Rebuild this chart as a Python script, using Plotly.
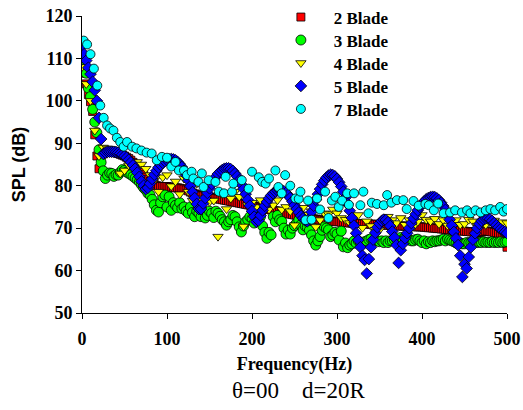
import plotly.graph_objects as go

# ---------------- data ----------------
series_names = ["2 Blade", "3 Blade", "4 Blade", "5 Blade", "7 Blade"]

# 2.5 Hz resolution series (rows of 10 values = 25 Hz each, final value at 500 Hz)
spl_2blade = [
    108, 106.5, 104, 101.5, 99.8, 97.5, 92, 87, 84, 86.5,
    87.5, 87.8, 88, 88, 88, 87.9, 87.8, 87.6, 87.4, 87.2,
    87, 86.7, 86.4, 86, 85.5, 85, 84.4, 83.8, 83.2, 82.6,
    82, 81.5, 81, 80.6, 80.3, 80, 79.9, 79.8, 79.8, 79.8,
    79.8, 79.7, 79.7, 79.6, 79.5, 79.5, 79.4, 79.3, 79.2, 79,
    78.8, 78.5, 78.3, 78.1, 77.9, 77.8, 77.7, 77.6, 77.5, 77.4,
    77.3, 77.2, 77.1, 77, 76.9, 76.8, 76.7, 76.6, 76.5, 76.4,
    76.3, 76.2, 76.1, 76, 75.9, 75.8, 75.7, 75.6, 75.5, 75.4,
    75.3, 75.2, 75.1, 75, 74.9, 74.8, 74.7, 74.6, 74.4, 74.3,
    74.2, 74.1, 74, 73.9, 73.8, 73.6, 73.5, 73.4, 73.3, 73.2,
    73.1, 73, 72.9, 72.8, 72.7, 72.6, 72.5, 72.4, 72.3, 72.2,
    72.1, 72, 71.9, 71.9, 71.8, 71.8, 71.7, 71.7, 71.6, 71.6,
    71.5, 71.5, 71.4, 71.4, 71.3, 71.3, 71.2, 71.2, 71.2, 71.1,
    71.1, 71.1, 71, 71, 71, 71, 70.9, 70.9, 70.9, 70.9,
    70.8, 70.8, 70.8, 70.7, 70.7, 70.7, 70.6, 70.6, 70.6, 70.5,
    70.5, 70.5, 70.5, 70.4, 70.4, 70.4, 70.4, 70.3, 70.3, 70.3,
    70.3, 70.2, 70.2, 70.1, 70.1, 70, 70, 69.9, 69.9, 69.8,
    69.8, 69.7, 69.7, 69.6, 69.6, 69.5, 69.5, 69.4, 69.4, 69.3,
    69.3, 69.2, 69.2, 69.1, 69.1, 69, 69, 69, 69.1, 69.2,
    69.3, 69.3, 69.2, 69.1, 69, 68.9, 68.8, 68.8, 68.7, 68.6,
    65.5,
]

spl_3blade = [
    108.5, 107.5, 106.5, 103, 101, 98, 95, 92.5, 88.5, 85.5,
    83.5, 81.7, 82.5, 83, 82.9, 82.2, 82.6, 82.5, 83.2, 83.8,
    83.6, 83.2, 82.9, 82.6, 82.2, 81.8, 81.4, 80.9, 80.2, 79.5,
    79, 78.2, 77.8, 76.8, 75.5, 74.2, 73.8, 76, 77.4, 77.8,
    75, 77.4, 74.2, 76, 75.4, 74.8, 76, 74.6, 75, 74,
    73.5, 75, 73.7, 72.7, 74, 73.5, 72.7, 74.2, 72.4, 73,
    74, 73.5, 72.5, 74, 73.5, 72.8, 72, 71.5, 70.7, 71.5,
    72, 73, 72.7, 71.5, 70.3, 69.1, 70.5, 71.5, 72, 72.7,
    72.3, 71.2, 73, 71.8, 72.7, 70.5, 69, 67.6, 69, 68.4,
    72.7, 71.5, 73, 72, 71.6, 70, 68.6, 69.5, 68.6, 70,
    70.6, 71.2, 71.9, 70.8, 69.6, 70.5, 70.2, 69.5, 68.4, 67,
    66, 67, 68, 69.5, 70.3, 70, 69.6, 68, 68.4, 69,
    68.6, 67.2, 69.3, 65.6, 66.5, 65.4, 66, 66.3, 67, 66.5,
    67, 66.5, 66.3, 66.8, 67, 67.3, 67.5, 67, 67.3, 67,
    66.8, 67, 66.6, 67, 66.6, 67, 67, 67.3, 67.4, 67,
    67.8, 67.4, 67.8, 67.4, 67.2, 67, 67, 67.3, 67.4, 67,
    66.6, 67, 66.3, 66.8, 66.6, 67, 66.8, 67, 67, 67.2,
    67.4, 67, 67.4, 67.2, 67, 66.8, 66.5, 66.3, 66.5, 66.3,
    66.3, 66.6, 66.5, 66.6, 66.6, 66.8, 66.6, 66.7, 66.6, 66.8,
    66.6, 66.7, 66.6, 66.8, 66.6, 66.7, 66.6, 66.8, 66.6, 66.7,
    66.8,
]

spl_5blade = [
    113, 111, 109.5, 107.8, 106.3, 104.5, 102.5, 100, 96, 91,
    87.5, 87.8, 88, 88, 88, 88, 87.9, 87.8, 87.6, 87.3,
    87, 86.6, 86.1, 85.5, 84.8, 84, 83.1, 82.1, 81, 80,
    79.2, 79.5, 80.5, 81.6, 82.6, 83.5, 84.3, 84.9, 85.4, 85.8,
    86.1, 86.2, 86.3, 86.2, 86, 85.6, 85.1, 84.4, 83.5, 82.5,
    81.3, 79.9, 78.5, 77.1, 75.7, 74.5, 74.5, 75.8, 77.1, 78.3,
    79.4, 80.4, 81.3, 82.1, 82.8, 83.3, 83.7, 84, 84.1, 84.1,
    83.9, 83.5, 82.9, 82.2, 81.3, 80.3, 79.2, 78, 76.7, 75.3,
    74, 72.7, 71.5, 71.8, 73, 74.2, 75.3, 76.2, 77, 77.7,
    78.2, 78.6, 78.9, 79, 78.9, 78.7, 78.3, 77.8, 77.1, 76.3,
    75.4, 74.5, 73.7, 72.9, 72.3, 71.8, 71.6, 72.3, 73.8, 75.3,
    76.7, 78, 79.2, 80.3, 81.2, 81.9, 82.4, 82.6, 82.5, 82.2,
    81.6, 80.8, 79.8, 78.6, 77.2, 75.7, 74.1, 72.4, 70.6, 68.8,
    67.2, 65.5, 63.5, 62.5, 59.3, 62.7, 65.5, 67.3, 68.9, 70.2,
    71.1, 71.7, 72, 71.9, 71.4, 70.5, 69.2, 67.8, 66, 61.8,
    64.8, 66.3, 67.6, 68.8, 70, 71.2, 72.3, 73.3, 74.2, 75,
    75.7, 76.3, 76.8, 77.1, 77.3, 77.4, 77.3, 77, 76.6, 76,
    75.2, 74.3, 73.2, 72, 70.6, 69.1, 67.6, 66, 63.5, 58.5,
    61.5, 60.5, 63.2, 65.5, 67.3, 68.8, 70, 71, 71.7, 72.1,
    72.3, 72.3, 72.1, 71.7, 71.2, 70.7, 70.2, 69.8, 69.4, 69.1,
    68.8,
]

# 5 Hz resolution series (rows of 10 values = 50 Hz each, final at 500 Hz)
spl_4blade = [
    108, 104, 100, 93, 87, 89, 88.8, 88.6, 88.4, 82.9,
    83.6, 84.8, 84.4, 85.6, 85, 84, 82.5, 81.3, 78.6, 82,
    82.5, 79.9, 81, 78, 81.7, 78.6, 76.5, 80.5, 77, 80,
    76.2, 76.5, 68, 78, 74.5, 77, 78.6, 77.4, 70.4, 75.4,
    76, 75, 76.6, 74.4, 74.4, 75.4, 76.6, 74.4, 75, 74,
    70.7, 74.4, 74.8, 73.2, 74, 70.3, 71.9, 73.5, 73.3, 74.4,
    73.5, 72.4, 72, 71.2, 70.8, 73.1, 70.1, 71.6, 70.5, 69.6,
    69.6, 71.6, 72.7, 71.9, 71.2, 72.4, 70.8, 71.9, 70.4, 71.5,
    73.1, 72, 71.6, 72.2, 71, 71.9, 70.6, 71.5, 71.9, 70.8,
    71, 72, 71.6, 70.6, 71.2, 70.8, 71.5, 71.8, 70.9, 71.4,
    71.2,
]

# 7 blade: irregular frequency points
freq_7blade = [2, 6, 10, 14, 18, 21.5, 25.5, 29.5, 33, 37, 41, 45, 49, 53, 59,
               64, 70, 76, 82, 88, 94, 100, 105, 110, 114, 120, 123.5, 129, 131, 137,
               141, 143, 149, 157, 161, 167, 169, 176.5, 178, 188, 196, 200, 208, 212, 216,
               220, 227.5, 231, 235, 239, 245, 251, 255, 257, 263, 266, 270, 276.5, 280, 286,
               290, 294, 298, 302, 306, 312, 314, 320, 327.5, 331, 337, 341, 347, 355, 359,
               364, 370.5, 378, 382, 390, 396, 404, 408, 414, 419, 425.5, 433, 439, 447, 453,
               457, 463, 469, 475, 480.5, 486, 492, 496, 500]
spl_7blade = [114.2, 113.3, 111, 107.6, 103.6, 98.9, 96, 94.2, 93.5, 93, 91.3, 90.3, 89.2, 90.3, 89.2,
              88.8, 88.3, 87.8, 87.6, 86, 86.8, 86.6, 84.5, 85.6, 83.6, 83.6, 82.5, 83.3, 81.7, 80.9,
              82.9, 79.7, 81.3, 80.9, 78.6, 78.2, 82.1, 78.6, 80.5, 81.3, 79.3, 83.3, 82, 80.9, 80.5,
              81.7, 83.6, 79.7, 78.2, 82.5, 80, 77, 76.9, 78.6, 71.9, 76.5, 72, 77, 74.4, 78.6,
              72.4, 76.5, 77.4, 75, 76.5, 78.2, 75.5, 78.2, 75.4, 78.6, 73.5, 76, 75.7, 75.4, 77.8,
              76, 76.6, 76.6, 74.5, 76.4, 75.3, 75.7, 75.4, 74.2, 75.8, 73.5, 73.7, 74.2, 73.7, 74.2,
              73.5, 74.2, 73.7, 74.2, 74.5, 74.2, 75, 73.9, 74.5]

x_ticks = [0, 100, 200, 300, 400, 500]
y_ticks = [50, 60, 70, 80, 90, 100, 110, 120]

freq_2 = [i * 2.5 for i in range(len(spl_2blade))]
freq_3 = [i * 2.5 for i in range(len(spl_3blade))]
freq_5 = [i * 2.5 for i in range(len(spl_5blade))]
freq_4 = [i * 5 for i in range(len(spl_4blade))]

SERIF = "Liberation Serif, Times New Roman, serif"
SANS = "Liberation Sans, Arial, sans-serif"
LEG_GAP = "\u2002\u2005"

# plot area in pixels: x 82..507, y 15.5..313
PLOT_H = 297.5
legend_rows_px = [17, 40, 63, 86, 109]

fig = go.Figure()
styles = [
    (freq_2, spl_2blade, "square", "#ff0000", 8),
    (freq_3, spl_3blade, "circle", "#00ff00", 10),
    (freq_4, spl_4blade, "triangle-down", "#ffff00", 9),
    (freq_5, spl_5blade, "diamond", "#0000ff", 9),
    (freq_7blade, spl_7blade, "circle", "#00ffff", 9),
]
legend_ids = ["legend", "legend2", "legend3", "legend4", "legend5"]
for name, (fx, fy, sym, col, sz), lid in zip(series_names, styles, legend_ids):
    fig.add_trace(go.Scatter(
        x=fx, y=fy, mode="markers", name=LEG_GAP + name, legend=lid,
        marker=dict(symbol=sym, color=col, size=sz,
                    line=dict(color="#000000", width=0.8)),
    ))

legend_layout = {}
for lid, row in zip(legend_ids, legend_rows_px):
    legend_layout[lid] = dict(
        x=0.468, xanchor="left", y=(313 - row) / PLOT_H, yanchor="middle",
        bgcolor="rgba(0,0,0,0)", borderwidth=0,
        font=dict(family=SERIF, size=17, weight="bold"),
    )

fig.update_layout(
    width=523, height=410, autosize=False,
    margin=dict(l=82, r=16, t=15.5, b=97, autoexpand=False),
    paper_bgcolor="white", plot_bgcolor="white",
    font=dict(family=SERIF, size=18, color="black"),
    showlegend=True,
    xaxis=dict(range=[0, 500], tickvals=x_ticks, showgrid=False, zeroline=False,
               automargin=False,
               showline=True, linecolor="black", linewidth=1,
               ticks="outside", ticklen=5, tickcolor="black", ticklabelstandoff=4,
               tickfont=dict(family=SERIF, size=18, weight="bold"),
               title=dict(text="Frequency(Hz)", standoff=9,
                          font=dict(family=SERIF, size=18, weight="bold"))),
    yaxis=dict(range=[50, 120], tickvals=y_ticks, showgrid=False, zeroline=False,
               automargin=False,
               showline=True, linecolor="black", linewidth=1,
               ticks="outside", ticklen=5, tickcolor="black",
               tickfont=dict(family=SERIF, size=18, weight="bold"),
               title=dict(text="SPL (dB)", standoff=15,
                          font=dict(family=SANS, size=18, weight="bold"))),
    annotations=[dict(text="\u03b8=00\u00a0\u00a0\u00a0\u00a0d=20R", xref="paper", yref="paper",
                      x=0.51, y=-0.262, xanchor="center", yanchor="middle",
                      showarrow=False, font=dict(family=SERIF, size=23))],
    **legend_layout,
)

fig.write_html("out.html")
